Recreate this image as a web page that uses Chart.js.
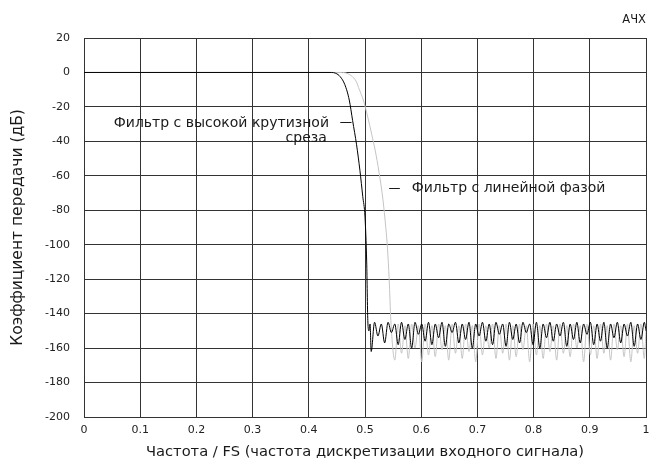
<!DOCTYPE html>
<html>
<head>
<meta charset="utf-8">
<script src="https://cdn.jsdelivr.net/npm/chart.js@4"></script>
<style>
  html, body { margin: 0; padding: 0; background: #fff; }
  #wrap { width: 662px; height: 465px; position: relative; }
</style>
</head>
<body>
<div id="wrap"><canvas id="afc"></canvas></div>
<script>
// Фильтр с высокой крутизной среза (чёрная линия)
const freqSteep = [0, 0.44, 0.448, 0.456, 0.464, 0.472, 0.478, 0.485, 0.491, 0.496, 0.5, 0.503, 0.505, 0.507, 0.509, 0.511,
  0.517, 0.523, 0.529, 0.535, 0.541, 0.547, 0.553, 0.559, 0.565, 0.571, 0.577, 0.583, 0.589, 0.595, 0.601, 0.607,
  0.613, 0.619, 0.625, 0.631, 0.637, 0.643, 0.649, 0.655, 0.661, 0.667, 0.673, 0.679, 0.685, 0.691, 0.697, 0.703,
  0.709, 0.715, 0.721, 0.727, 0.733, 0.739, 0.745, 0.751, 0.757, 0.763, 0.769, 0.775, 0.781, 0.787, 0.793, 0.799,
  0.805, 0.811, 0.817, 0.823, 0.829, 0.835, 0.841, 0.847, 0.853, 0.859, 0.865, 0.871, 0.877, 0.883, 0.889, 0.895,
  0.901, 0.907, 0.913, 0.919, 0.925, 0.931, 0.937, 0.943, 0.949, 0.955, 0.961, 0.967, 0.973, 0.979, 0.985, 0.991,
  0.997, 1.0];
const gainSteep = [0, 0, -0.5, -2.5, -7, -16, -28, -42, -57, -72, -84, -110, -144, -150, -146, -162,
  -145, -153, -146, -157, -145, -151, -146, -158, -145, -155, -146, -160, -145, -152, -146, -156,
  -145, -158, -146, -154, -145, -159, -146, -151, -145, -157, -146, -155, -145, -160, -146, -153,
  -145, -156, -146, -158, -145, -152, -146, -159, -145, -155, -146, -157, -145, -151, -146, -158,
  -145, -160, -146, -154, -145, -156, -146, -153, -145, -159, -146, -155, -145, -157, -146, -152,
  -145, -158, -146, -156, -145, -160, -146, -154, -145, -157, -146, -153, -145, -159, -146, -155,
  -145, -150];

// Фильтр с линейной фазой (серая линия)
const freqLinear = [0, 0.46, 0.468, 0.476, 0.484, 0.49, 0.497, 0.505, 0.512, 0.518, 0.525, 0.532, 0.537, 0.54, 0.543, 0.546,
  0.553, 0.559, 0.565, 0.571, 0.577, 0.583, 0.589, 0.595, 0.601, 0.607, 0.613, 0.619, 0.625, 0.631, 0.637, 0.643,
  0.649, 0.655, 0.661, 0.667, 0.673, 0.679, 0.685, 0.691, 0.697, 0.703, 0.709, 0.715, 0.721, 0.727, 0.733, 0.739,
  0.745, 0.751, 0.757, 0.763, 0.769, 0.775, 0.781, 0.787, 0.793, 0.799, 0.805, 0.811, 0.817, 0.823, 0.829, 0.835,
  0.841, 0.847, 0.853, 0.859, 0.865, 0.871, 0.877, 0.883, 0.889, 0.895, 0.901, 0.907, 0.913, 0.919, 0.925, 0.931,
  0.937, 0.943, 0.949, 0.955, 0.961, 0.967, 0.973, 0.979, 0.985, 0.991, 0.997, 1.0];
const gainLinear = [0, 0, -0.5, -2, -5, -10, -16, -26, -36, -45, -58, -74, -90, -102, -120, -144,
  -167, -146, -163, -147, -166, -146, -160, -147, -168, -146, -164, -147, -165, -146, -161, -147,
  -167, -146, -163, -147, -166, -146, -162, -147, -168, -146, -164, -147, -160, -146, -166, -147,
  -163, -146, -167, -147, -165, -146, -161, -147, -168, -146, -164, -147, -166, -146, -162, -147,
  -167, -146, -163, -147, -165, -146, -160, -147, -168, -146, -164, -147, -166, -146, -163, -147,
  -167, -146, -161, -147, -165, -146, -168, -147, -163, -146, -166, -150];

const xTickLabels = ["0", "0.1", "0.2", "0.3", "0.4", "0.5", "0.6", "0.7", "0.8", "0.9", "1"];
const chartTitle = "АЧХ";
const xTitle = "Частота / FS (частота дискретизации входного сигнала)";
const yTitle = "Коэффициент передачи (дБ)";
const steepLabel = ["Фильтр с высокой крутизной", "среза"];
const linearLabel = "Фильтр с линейной фазой";

const FONT = '"DejaVu Sans", Arial, sans-serif';

function zip(xs, ys) {
  const pts = [];
  for (let i = 0; i < Math.min(xs.length, ys.length); i++) pts.push({ x: xs[i], y: ys[i] });
  return pts;
}

// подписи кривых и заголовок рисуем сами
const labelsPlugin = {
  id: "curveLabels",
  afterDraw(chart) {
    const { ctx, chartArea, scales } = chart;
    const x = scales.x, y = scales.y;
    ctx.save();
    ctx.fillStyle = "#1a1a1a";
    ctx.textBaseline = "middle";
    ctx.font = "11.5px " + FONT;

    ctx.textAlign = "right";
    ctx.fillText(chartTitle, chartArea.right, chartArea.top - 18);

    ctx.font = "14px " + FONT;
    ctx.fillText(steepLabel[0], x.getPixelForValue(0.436), y.getPixelForValue(-29.6));
    ctx.fillText(steepLabel[1], x.getPixelForValue(0.432), y.getPixelForValue(-38.5));

    ctx.textAlign = "left";
    ctx.fillText(linearLabel, x.getPixelForValue(0.583), y.getPixelForValue(-67));

    // короткие выноски
    ctx.strokeStyle = "#1a1a1a";
    ctx.lineWidth = 1;
    ctx.beginPath();
    const y1 = Math.round(y.getPixelForValue(-29)) + 0.5;
    ctx.moveTo(x.getPixelForValue(0.456), y1);
    ctx.lineTo(x.getPixelForValue(0.476), y1);
    const y2 = Math.round(y.getPixelForValue(-67)) + 0.5;
    ctx.moveTo(x.getPixelForValue(0.543), y2);
    ctx.lineTo(x.getPixelForValue(0.562), y2);
    ctx.stroke();
    ctx.restore();
  }
};

new Chart(document.getElementById("afc"), {
  type: "scatter",
  data: {
    datasets: [
      {
        label: steepLabel.join(" "),
        data: zip(freqSteep, gainSteep),
        showLine: true,
        borderColor: "#000",
        borderWidth: 1,
        pointRadius: 0,
        cubicInterpolationMode: "monotone",
      },
      {
        label: linearLabel,
        data: zip(freqLinear, gainLinear),
        showLine: true,
        borderColor: "#c4c4c4",
        borderWidth: 1,
        pointRadius: 0,
        cubicInterpolationMode: "monotone",
      },
    ],
  },
  options: {
    responsive: true,
    maintainAspectRatio: false,
    animation: false,
    layout: { padding: { top: 38, right: 16, left: 0, bottom: 0 } },
    plugins: { legend: { display: false }, tooltip: { enabled: false } },
    scales: {
      x: {
        type: "linear",
        min: 0,
        max: 1,
        afterFit: (s) => { s.height = 48; },
        afterBuildTicks: (s) => {
          s.ticks = xTickLabels.map((t, i) => ({ value: i / 10 }));
        },
        ticks: {
          padding: 7,
          color: "#222",
          font: { family: FONT, size: 11 },
          callback: (v, i) => xTickLabels[i],
        },
        grid: { color: "#333", drawTicks: false },
        border: { color: "#333" },
        title: {
          display: true,
          text: xTitle,
          color: "#1a1a1a",
          font: { family: FONT, size: 14.7 },
          padding: { top: 0, bottom: 4 },
        },
      },
      y: {
        min: -200,
        max: 20,
        afterFit: (s) => { s.width = 84; },
        ticks: {
          stepSize: 20,
          padding: 14,
          color: "#222",
          font: { family: FONT, size: 11 },
        },
        grid: { color: "#333", drawTicks: false },
        border: { color: "#333" },
        title: {
          display: true,
          text: yTitle,
          color: "#1a1a1a",
          font: { family: FONT, size: 15.5 },
          padding: { top: 9, bottom: 0 },
        },
      },
    },
  },
  plugins: [labelsPlugin],
});
</script>
</body>
</html>
